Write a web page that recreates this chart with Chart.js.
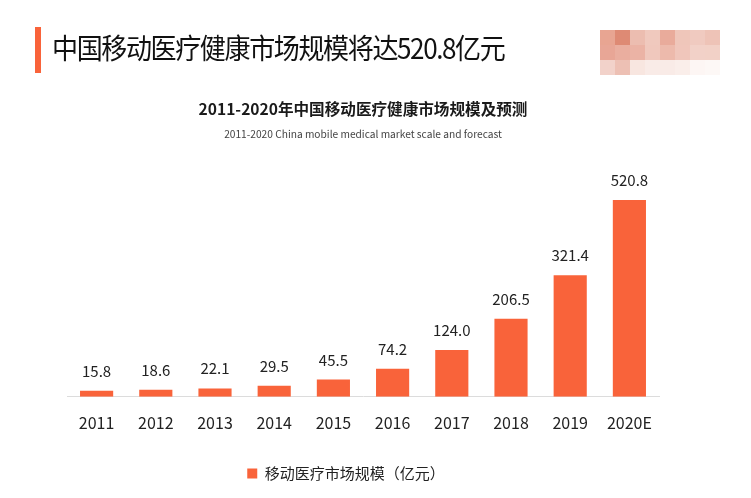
<!DOCTYPE html>
<html>
<head>
<meta charset="utf-8">
<script src="https://cdn.jsdelivr.net/npm/chart.js@4.4.1/dist/chart.umd.min.js"></script>
<style>
  html, body { margin: 0; padding: 0; background: #fff; }
  #wrap { position: relative; width: 751px; height: 498px; overflow: hidden; }
  #chartBox { position: absolute; left: 0; top: 0; width: 751px; height: 498px; }
  .accent { position: absolute; left: 35px; top: 27px; width: 6px; height: 46px; background: #f9633a; }
  .headline {
    position: absolute; left: 52px; top: 32px; margin: 0;
    font-family: "Noto Sans CJK SC", sans-serif; font-weight: 400;
    font-size: 28px; line-height: 30px; letter-spacing: -1.5px; color: #111;
    white-space: nowrap; transform: scaleX(0.93); transform-origin: left center;
  }
  .logo { position: absolute; left: 600px; top: 30px; display: grid;
    grid-template-columns: repeat(8, 15px); grid-auto-rows: 15px; }
</style>
</head>
<body>
<div id="wrap">
  <div id="chartBox"><canvas id="marketChart"></canvas></div>
  <div class="accent"></div>
  <h1 class="headline">中国移动医疗健康市场规模将达520.8亿元</h1>
  <div class="logo" id="logo"></div>
</div>
<script>
(() => {
  // ---- data ----
  const years = ['2011', '2012', '2013', '2014', '2015', '2016', '2017', '2018', '2019', '2020E'];
  const marketSize = [15.8, 18.6, 22.1, 29.5, 45.5, 74.2, 124.0, 206.5, 321.4, 520.8];
  const seriesName = '移动医疗市场规模（亿元）';
  const chartTitle = '2011-2020年中国移动医疗健康市场规模及预测';
  const chartSubtitle = '2011-2020 China mobile medical market scale and forecast';

  const ORANGE = '#f9633a';
  const FONT = '"Noto Sans CJK SC", "Noto Sans", sans-serif';

  // ---- blurred logo tiles (decoration only) ----
  const logoTiles = [
    '#e8a592', '#de8a74', '#ecbdb0', '#f0c9be', '#e9ab9b', '#efc6ba', '#f0cac0', '#eec3b7',
    '#e8a696', '#eaae9f', '#ebb3a5', '#f0c8bd', '#edbaac', '#f0c6bb', '#f2d1c8', '#f2d1c7',
    '#f2d2ca', '#edc0b4', '#f8e6e0', '#f9ebe7', '#f9ebe7', '#faeeea', '#fdf6f4', '#fdf8f6'
  ];
  const logo = document.getElementById('logo');
  logoTiles.forEach(c => {
    const d = document.createElement('div');
    d.style.background = c;
    logo.appendChild(d);
  });

  // value labels above each bar
  const valueLabels = {
    id: 'valueLabels',
    afterDatasetsDraw(chart) {
      const { ctx } = chart;
      const meta = chart.getDatasetMeta(0);
      ctx.save();
      ctx.font = '15px ' + FONT;
      ctx.fillStyle = '#222';
      ctx.textAlign = 'center';
      ctx.textBaseline = 'alphabetic';
      meta.data.forEach((bar, i) => {
        ctx.fillText(marketSize[i].toFixed(1), bar.x, bar.y - 14);
      });
      ctx.restore();
    }
  };

  Chart.defaults.font.family = FONT;
  Chart.defaults.color = '#222';

  new Chart(document.getElementById('marketChart').getContext('2d'), {
    type: 'bar',
    data: {
      labels: years,
      datasets: [{
        label: seriesName,
        data: marketSize,
        backgroundColor: ORANGE,
        borderWidth: 0,
        barPercentage: 0.56,
        categoryPercentage: 1
      }]
    },
    options: {
      responsive: true,
      maintainAspectRatio: false,
      animation: false,
      layout: { padding: { left: 33, right: 92, top: 0, bottom: 7 } },
      plugins: {
        title: {
          display: true,
          text: chartTitle,
          fullSize: false,
          color: '#1a1a1a',
          font: { size: 15.6, weight: 'bold' },
          padding: { top: 100, bottom: 4 }
        },
        subtitle: {
          display: true,
          text: chartSubtitle,
          fullSize: false,
          color: '#444',
          font: { size: 10.2 },
          padding: { top: 5, bottom: 30 }
        },
        legend: {
          position: 'bottom',
          labels: {
            boxWidth: 10,
            boxHeight: 10,
            padding: 16,
            color: '#222',
            font: { size: 15 }
          }
        },
        tooltip: { enabled: false }
      },
      scales: {
        x: {
          grid: { display: false, drawTicks: false },
          border: { display: true, color: '#dcdcdc', width: 1 },
          ticks: { padding: 17, color: '#222', font: { size: 16 } }
        },
        y: {
          min: 0,
          max: 600,
          grid: { display: false, drawTicks: false },
          border: { display: false },
          ticks: { display: false },
          afterFit: (scale) => { scale.width = 34; }
        }
      }
    },
    plugins: [valueLabels]
  });
})();
</script>
</body>
</html>
